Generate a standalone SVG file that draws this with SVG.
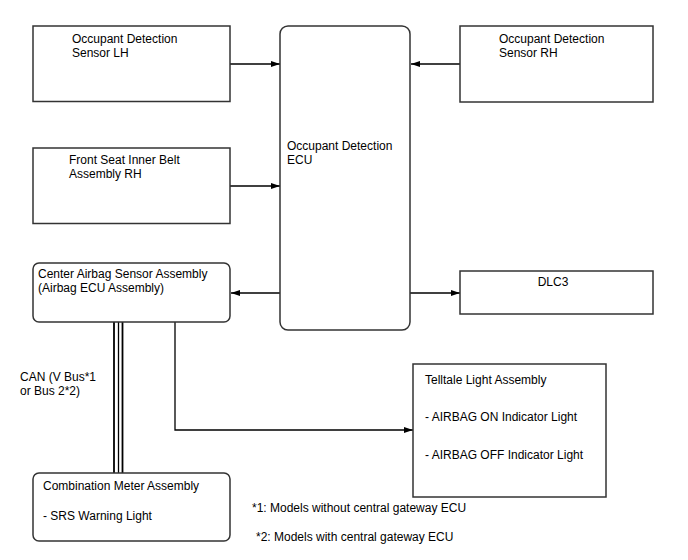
<svg xmlns="http://www.w3.org/2000/svg" width="688" height="560" viewBox="0 0 688 560">
<defs>
<marker id="arr" markerWidth="9" markerHeight="6" refX="9" refY="3" orient="auto" markerUnits="userSpaceOnUse">
<path d="M0,0 L9,3 L0,6 Z" fill="#000"/>
</marker>
<style>
.box{fill:#fff;stroke:#333;stroke-width:1.5}
.ln{fill:none;stroke:#000;stroke-width:1.3}
.bus{fill:none;stroke:#000;stroke-width:1.8}
text{font-family:"Liberation Sans",Arial,sans-serif;font-size:12px;fill:#000}
</style>
</defs>
<rect width="688" height="560" fill="#fff"/>
<g id="connectors">
<line class="ln" x1="230" y1="64" x2="280" y2="64" marker-end="url(#arr)"/>
<line class="ln" x1="460" y1="64" x2="411" y2="64" marker-end="url(#arr)"/>
<line class="ln" x1="230" y1="186" x2="280" y2="186" marker-end="url(#arr)"/>
<line class="ln" x1="280" y1="293" x2="231" y2="293" marker-end="url(#arr)"/>
<line class="ln" x1="410" y1="293" x2="460" y2="293" marker-end="url(#arr)"/>
<polyline class="ln" points="175,322 175,430 413,430" marker-end="url(#arr)"/>
<line class="bus" x1="114" y1="322" x2="114" y2="473"/>
<line class="ln" x1="118.5" y1="322" x2="118.5" y2="473"/>
<line class="bus" x1="122.5" y1="322" x2="122.5" y2="473"/>
<text x="20" y="381">CAN (V Bus*1</text>
<text x="20" y="395">or Bus 2*2)</text>
</g>
<g id="sensor-lh">
<rect class="box" x="33" y="26" width="197" height="75.5"/>
<text x="72" y="43">Occupant Detection</text>
<text x="72" y="57">Sensor LH</text>
</g>
<g id="sensor-rh">
<rect class="box" x="460" y="26" width="193" height="76"/>
<text x="499" y="43">Occupant Detection</text>
<text x="499" y="57">Sensor RH</text>
</g>
<g id="front-seat">
<rect class="box" x="33" y="148" width="197" height="75.5"/>
<text x="69" y="164">Front Seat Inner Belt</text>
<text x="69" y="178">Assembly RH</text>
</g>
<g id="ecu">
<rect class="box" x="280" y="26" width="130" height="304" rx="8" ry="8"/>
<text x="287" y="150">Occupant Detection</text>
<text x="287" y="164">ECU</text>
</g>
<g id="center-airbag">
<rect class="box" x="33" y="263" width="197" height="59" rx="6" ry="6"/>
<text x="38" y="278">Center Airbag Sensor Assembly</text>
<text x="38" y="292">(Airbag ECU Assembly)</text>
</g>
<g id="dlc3">
<rect class="box" x="460" y="271" width="193" height="43"/>
<text x="553" y="286" text-anchor="middle">DLC3</text>
</g>
<g id="telltale">
<rect class="box" x="413" y="364" width="193" height="133"/>
<text x="425" y="384">Telltale Light Assembly</text>
<text x="425" y="421">- AIRBAG ON Indicator Light</text>
<text x="425" y="459">- AIRBAG OFF Indicator Light</text>
</g>
<g id="combination-meter">
<rect class="box" x="33" y="473" width="197" height="68" rx="6" ry="6"/>
<text x="43" y="490">Combination Meter Assembly</text>
<text x="43" y="520">- SRS Warning Light</text>
</g>
<g id="notes">
<text x="252" y="512">*1: Models without central gateway ECU</text>
<text x="256" y="541">*2: Models with central gateway ECU</text>
</g>
</svg>
